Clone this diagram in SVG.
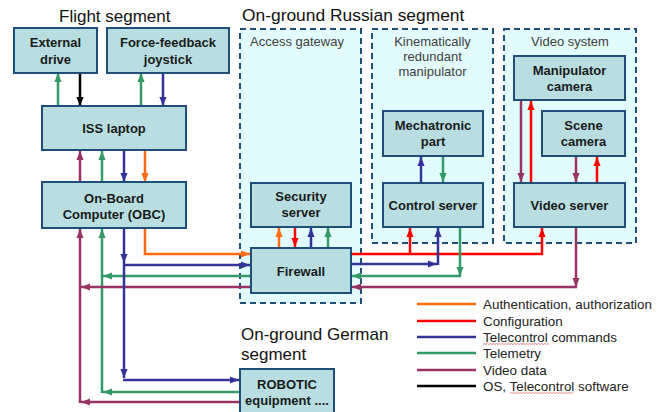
<svg xmlns="http://www.w3.org/2000/svg" width="660" height="412" viewBox="0 0 660 412">
<style>
.box{fill:#b8dee2;stroke:#1f4e79;stroke-width:2}
.grp{fill:#e2fcfd;stroke:#1f4e79;stroke-width:2;stroke-dasharray:6 4}
.bt{font-family:"Liberation Sans",Arial,sans-serif;font-weight:bold;font-size:13px;fill:#1a1a1a;text-anchor:middle}
.gt{font-family:"Liberation Sans",Arial,sans-serif;font-size:13px;fill:#404040}
.title{font-family:"Liberation Sans",Arial,sans-serif;font-size:17px;fill:#111}
.lt{font-family:"Liberation Sans",Arial,sans-serif;font-size:13.4px;fill:#222}
.c{fill:none;stroke-width:2.5}
.or{stroke:#ff6a13}.rd{stroke:#ff0000}.bl{stroke:#333399}.gr{stroke:#339966}.pu{stroke:#993366}.bk{stroke:#000}
</style>
<defs>
<marker id="aor" viewBox="0 0 10 8" refX="10" refY="4" markerWidth="9" markerHeight="8" markerUnits="userSpaceOnUse" orient="auto"><path d="M0,0L10,4L0,8z" fill="#ff6a13"/></marker>
<marker id="ard" viewBox="0 0 10 8" refX="10" refY="4" markerWidth="9" markerHeight="8" markerUnits="userSpaceOnUse" orient="auto"><path d="M0,0L10,4L0,8z" fill="#ff0000"/></marker>
<marker id="abl" viewBox="0 0 10 8" refX="10" refY="4" markerWidth="9" markerHeight="8" markerUnits="userSpaceOnUse" orient="auto"><path d="M0,0L10,4L0,8z" fill="#333399"/></marker>
<marker id="agr" viewBox="0 0 10 8" refX="10" refY="4" markerWidth="9" markerHeight="8" markerUnits="userSpaceOnUse" orient="auto"><path d="M0,0L10,4L0,8z" fill="#339966"/></marker>
<marker id="apu" viewBox="0 0 10 8" refX="10" refY="4" markerWidth="9" markerHeight="8" markerUnits="userSpaceOnUse" orient="auto"><path d="M0,0L10,4L0,8z" fill="#993366"/></marker>
<marker id="abk" viewBox="0 0 10 8" refX="10" refY="4" markerWidth="9" markerHeight="8" markerUnits="userSpaceOnUse" orient="auto"><path d="M0,0L10,4L0,8z" fill="#000"/></marker>
</defs>
<rect width="660" height="412" fill="#fff"/>

<text class="title" x="59" y="22">Flight segment</text>
<text class="title" x="242" y="21" style="font-size:17.4px">On-ground Russian segment</text>
<text class="title" x="241" y="340">On-ground German</text>
<text class="title" x="241" y="360">segment</text>

<g id="access-gateway"><rect class="grp" x="240" y="29" width="121" height="274"/><text class="gt" x="250" y="46">Access gateway</text></g>
<g id="kinematic-manipulator"><rect class="grp" x="372" y="29" width="121" height="214"/>
<text class="gt" x="432.5" y="46" text-anchor="middle">Kinematically</text>
<text class="gt" x="432.5" y="61" text-anchor="middle">redundant</text>
<text class="gt" x="432.5" y="76" text-anchor="middle">manipulator</text></g>
<g id="video-system"><rect class="grp" x="504" y="29" width="132" height="214"/><text class="gt" x="570" y="46" text-anchor="middle">Video system</text></g>

<g id="connectors">
<path class="c gr" d="M58,106V73" marker-end="url(#agr)"/>
<path class="c bk" d="M80,73V106" marker-end="url(#abk)"/>
<path class="c gr" d="M141,106V73" marker-end="url(#agr)"/>
<path class="c bl" d="M163,73V106" marker-end="url(#abl)"/>
<path class="c pu" d="M80,182V151" marker-end="url(#apu)"/>
<path class="c gr" d="M102,182V151" marker-end="url(#agr)"/>
<path class="c bl" d="M124,150V182" marker-end="url(#abl)"/>
<path class="c or" d="M145,150V182" marker-end="url(#aor)"/>
<path class="c pu" d="M80,403V229" marker-end="url(#apu)"/>
<path class="c gr" d="M102,393V229" marker-end="url(#agr)"/>
<path class="c pu" d="M251,287H81" marker-end="url(#apu)"/>
<path class="c pu" d="M240,402H81" marker-end="url(#apu)"/>
<path class="c gr" d="M251,276H103" marker-end="url(#agr)"/>
<path class="c gr" d="M240,392H103" marker-end="url(#agr)"/>
<path class="c bl" d="M124,228V263" marker-end="url(#abl)"/>
<path class="c bl" d="M124,263V378" marker-end="url(#abl)"/>
<path class="c bl" d="M124,265H250" marker-end="url(#abl)"/>
<path class="c bl" d="M123,380H239" marker-end="url(#abl)"/>
<path class="c or" d="M145,228V254H250" marker-end="url(#aor)"/>
<path class="c or" d="M279,248V228" marker-end="url(#aor)"/>
<path class="c rd" d="M295,227V247" marker-end="url(#ard)"/>
<path class="c bl" d="M311,248V228" marker-end="url(#abl)"/>
<path class="c gr" d="M328,248V228" marker-end="url(#agr)"/>
<path class="c rd" d="M351,254H542V228" marker-end="url(#ard)"/>
<path class="c rd" d="M410,254V228" marker-end="url(#ard)"/>
<path class="c bl" d="M351,264H437" marker-end="url(#abl)"/>
<path class="c bl" d="M438,265V228" marker-end="url(#abl)"/>
<path class="c gr" d="M460,227V276" marker-end="url(#agr)"/>
<path class="c gr" d="M461,276H352" marker-end="url(#agr)"/>
<path class="c pu" d="M576,227V287" marker-end="url(#apu)"/>
<path class="c pu" d="M577,287H352" marker-end="url(#apu)"/>
<path class="c bl" d="M421,183V157" marker-end="url(#abl)"/>
<path class="c gr" d="M443,156V182" marker-end="url(#agr)"/>
<path class="c pu" d="M521,100V182" marker-end="url(#apu)"/>
<path class="c rd" d="M531,183V101" marker-end="url(#ard)"/>
<path class="c pu" d="M576,156V182" marker-end="url(#apu)"/>
<path class="c rd" d="M597,183V157" marker-end="url(#ard)"/>
</g>

<g id="external-drive"><rect class="box" x="14" y="28" width="83" height="45"/><text class="bt" x="55.5" y="47">External</text><text class="bt" x="55.5" y="64">drive</text></g>
<g id="joystick"><rect class="box" x="107" y="28" width="122" height="45"/><text class="bt" x="168" y="47">Force-feedback</text><text class="bt" x="168" y="64">joystick</text></g>
<g id="iss-laptop"><rect class="box" x="42" y="106" width="144" height="44"/><text class="bt" x="114" y="133">ISS laptop</text></g>
<g id="obc"><rect class="box" x="42" y="182" width="144" height="46"/><text class="bt" x="114" y="203">On-Board</text><text class="bt" x="114" y="219">Computer (OBC)</text></g>
<g id="security-server"><rect class="box" x="251" y="183" width="100" height="44"/><text class="bt" x="301" y="201">Security</text><text class="bt" x="301" y="217">server</text></g>
<g id="firewall"><rect class="box" x="251" y="248" width="100" height="45"/><text class="bt" x="301" y="276">Firewall</text></g>
<g id="mechatronic-part"><rect class="box" x="383" y="111" width="100" height="45"/><text class="bt" x="433" y="130">Mechatronic</text><text class="bt" x="433" y="146">part</text></g>
<g id="control-server"><rect class="box" x="383" y="183" width="100" height="44"/><text class="bt" x="433" y="210">Control server</text></g>
<g id="manipulator-camera"><rect class="box" x="514" y="56" width="111" height="44"/><text class="bt" x="569.5" y="75">Manipulator</text><text class="bt" x="569.5" y="91">camera</text></g>
<g id="scene-camera"><rect class="box" x="542" y="111" width="83" height="45"/><text class="bt" x="583.5" y="130">Scene</text><text class="bt" x="583.5" y="146">camera</text></g>
<g id="video-server"><rect class="box" x="514" y="183" width="111" height="44"/><text class="bt" x="569.5" y="210">Video server</text></g>
<g id="robotic-equipment"><rect class="box" x="240" y="369" width="94" height="50"/><text class="bt" x="287" y="389">ROBOTIC</text><text class="bt" x="287" y="405">equipment ....</text></g>

<g id="legend">
<line x1="417" y1="304" x2="476" y2="304" stroke="#ff6a13" stroke-width="2.5"/><text class="lt" x="483" y="309">Authentication, authorization</text>
<line x1="417" y1="321" x2="476" y2="321" stroke="#ff0000" stroke-width="2.5"/><text class="lt" x="483" y="326">Configuration</text>
<line x1="417" y1="337" x2="476" y2="337" stroke="#333399" stroke-width="2.5"/><text class="lt" x="483" y="342">Telecontrol commands</text>
<line x1="417" y1="353" x2="476" y2="353" stroke="#339966" stroke-width="2.5"/><text class="lt" x="483" y="358">Telemetry</text>
<line x1="417" y1="370" x2="476" y2="370" stroke="#993366" stroke-width="2.5"/><text class="lt" x="483" y="375">Video data</text>
<line x1="417" y1="386" x2="476" y2="386" stroke="#000" stroke-width="2.5"/><text class="lt" x="483" y="391">OS, Telecontrol software</text>
<path d="M483,344.5l1.5,-1l1.5,1l1.5,-1l1.5,1l1.5,-1l1.5,1l1.5,-1l1.5,1l1.5,-1l1.5,1l1.5,-1l1.5,1l1.5,-1l1.5,1l1.5,-1l1.5,1l1.5,-1l1.5,1l1.5,-1l1.5,1l1.5,-1l1.5,1l1.5,-1l1.5,1l1.5,-1l1.5,1l1.5,-1l1.5,1l1.5,-1l1.5,1l1.5,-1l1.5,1l1.5,-1l1.5,1l1.5,-1l1.5,1l1.5,-1l1.5,1l1.5,-1l1.5,1l1.5,-1l1.5,1l1.5,-1l1.5,1" fill="none" stroke="#e06666" stroke-width="0.8"/>
<path d="M510,393.5l1.5,-1l1.5,1l1.5,-1l1.5,1l1.5,-1l1.5,1l1.5,-1l1.5,1l1.5,-1l1.5,1l1.5,-1l1.5,1l1.5,-1l1.5,1l1.5,-1l1.5,1l1.5,-1l1.5,1l1.5,-1l1.5,1l1.5,-1l1.5,1l1.5,-1l1.5,1l1.5,-1l1.5,1l1.5,-1l1.5,1l1.5,-1l1.5,1l1.5,-1l1.5,1l1.5,-1l1.5,1l1.5,-1l1.5,1l1.5,-1l1.5,1l1.5,-1l1.5,1l1.5,-1l1.5,1" fill="none" stroke="#e06666" stroke-width="0.8"/>
</g>
</svg>
